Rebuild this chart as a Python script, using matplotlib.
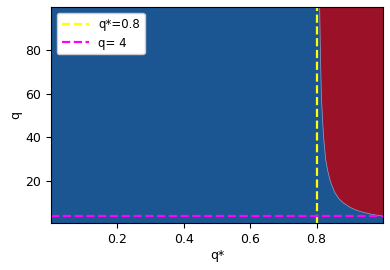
import matplotlib
matplotlib.use("Agg")
import matplotlib.pyplot as plt
import numpy as np

# boundary of the red region
q_vals = [4, 4.5, 5, 6, 7, 8, 10, 12, 15, 20, 25, 30, 40, 50, 60, 80, 100]
qstar_boundary = [1.0, 0.978, 0.96, 0.933, 0.914, 0.9, 0.88, 0.866, 0.853,
                  0.84, 0.832, 0.826, 0.82, 0.816, 0.813, 0.81, 0.808]
qstar_line = 0.8
q_line = 4

fig = plt.figure(figsize=(3.9, 2.7), dpi=100)
ax = fig.add_axes([0.131, 0.174, 0.851, 0.8])
ax.set_facecolor("#1c5692")
ax.fill_betweenx(q_vals, qstar_boundary, 1.0, color="#9b1128", edgecolor="#8fa6c8", linewidth=0.5)
ax.axvline(qstar_line, color="yellow", linestyle="--", linewidth=1.6, label="q*=0.8")
ax.axhline(q_line, color="magenta", linestyle="--", linewidth=1.6, label="q= 4")
ax.set_xlim(0.001, 1.0)
ax.set_ylim(0.6, 100)
ax.set_xticks([0.2, 0.4, 0.6, 0.8])
ax.set_yticks([20, 40, 60, 80])
ax.tick_params(labelsize=9)
ax.set_xlabel("q*", fontsize=9, labelpad=2)
ax.set_ylabel("q", fontsize=9, labelpad=2)
ax.legend(loc="upper left", fontsize=8.5, framealpha=1, handlelength=2.3)
fig.savefig("out.png", dpi=100)
